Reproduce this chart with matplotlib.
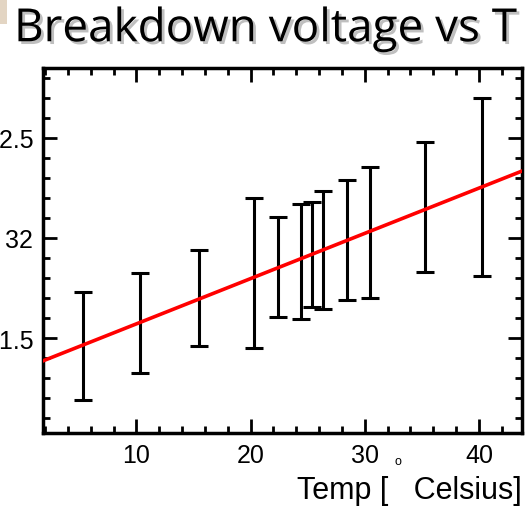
import numpy as np
import matplotlib
matplotlib.use("Agg")
import matplotlib.pyplot as plt
import matplotlib.patheffects as pe
from matplotlib.patches import Rectangle
from matplotlib.ticker import MultipleLocator

# measured points (temperature in C, breakdown voltage in V, symmetric error)
temps = [5.34, 10.31, 15.45, 20.29, 22.39, 24.38, 25.34, 26.33, 28.41, 30.45, 35.29, 40.25]
voltage = [31.462, 31.575, 31.700, 31.825, 31.856, 31.883, 31.918, 31.940, 31.990, 32.027, 32.153, 32.254]
err = [0.270, 0.250, 0.240, 0.375, 0.250, 0.287, 0.262, 0.294, 0.300, 0.327, 0.324, 0.442]

# linear fit
slope = 0.02257
intercept = 31.346

plt.rcParams['font.family'] = ['Liberation Sans', 'DejaVu Sans']

fig = plt.figure(figsize=(5.29, 5.10), dpi=100)
ax = fig.add_axes([43 / 529, 76 / 510, (522 - 43) / 529, (434 - 69) / 510])

ax.set_xlim(1.81, 43.77)
ax.set_ylim(31.027, 32.848)

ax.errorbar(temps, voltage, yerr=err, fmt='none', ecolor='black',
            elinewidth=2.2, capsize=6.5, capthick=2.2, zorder=2)

xs = np.array(ax.get_xlim())
ax.plot(xs, intercept + slope * xs, color='red', lw=2.6, zorder=3)

ax.xaxis.set_major_locator(MultipleLocator(10))
ax.xaxis.set_minor_locator(MultipleLocator(2))
ax.yaxis.set_major_locator(MultipleLocator(0.5))
ax.yaxis.set_minor_locator(MultipleLocator(0.1))
ax.yaxis.set_major_formatter(plt.FuncFormatter(lambda v, p: f"{v:g}"))

ax.tick_params(which='both', direction='in', top=True, right=True, width=2)
ax.tick_params(which='major', length=10, labelsize=18, pad=7)
ax.tick_params(which='minor', length=5)
for s in ax.spines.values():
    s.set_linewidth(2.5)

ax.set_xlabel("Temp [   Celsius]", loc='right', fontsize=22, labelpad=6)
fig.text(398 / 529, 1 - 462 / 510, "o", fontsize=9, ha='center', va='center')

fig.text(14 / 529, 1 - 30 / 510, "Breakdown voltage vs T", fontsize=33,
         ha='left', va='center', family=['Open Sans', 'DejaVu Sans'],
         path_effects=[pe.SimplePatchShadow(offset=(2, -2), shadow_rgbFace='gray', alpha=0.5),
                       pe.Normal()])

fig.patches.append(Rectangle((0, 1 - 25 / 510), 7 / 529, 25 / 510, transform=fig.transFigure,
                             facecolor='#e3d5c3', edgecolor='none'))

fig.savefig("out.png", dpi=100)
